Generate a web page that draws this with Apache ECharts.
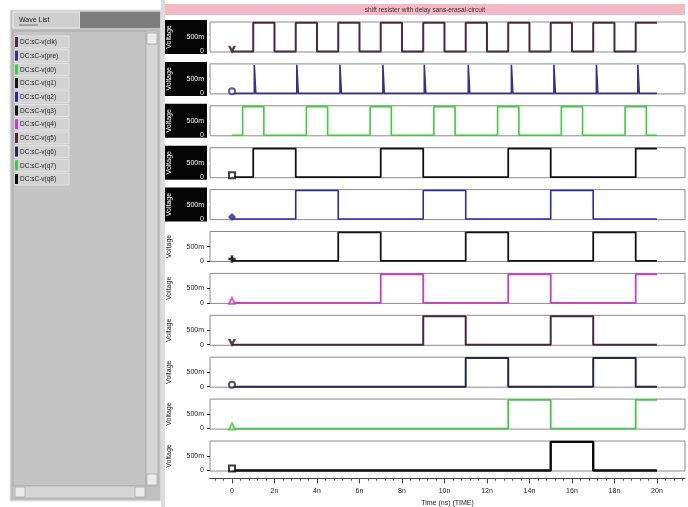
<!DOCTYPE html>
<html><head><meta charset="utf-8">
<script src="https://cdn.jsdelivr.net/npm/echarts@6/dist/echarts.min.js"></script>
<style>html,body{margin:0;padding:0;background:#fff}#c{width:688px;height:507px}</style>
</head><body><div id="c"></div><script>
// ---------- data ----------
const chartTitle = 'shift resister with delay sans-erasal-circuit';
const signalNames = ['DC:sC-v(clk)','DC:sC-v(pre)','DC:sC-v(d0)','DC:sC-v(q1)','DC:sC-v(q2)','DC:sC-v(q3)','DC:sC-v(q4)','DC:sC-v(q5)','DC:sC-v(q6)','DC:sC-v(q7)','DC:sC-v(q8)'];
const clkHigh = [[1,2],[3,4],[5,6],[7,8],[9,10],[11,12],[13,14],[15,16],[17,18],[19,20]];
const preHigh = [[1.05,1.12],[3.05,3.12],[5.08,5.15],[7.1,7.17],[9.05,9.12],[11.12,11.19],[13.15,13.22],[15.15,15.22],[17.15,17.22],[19.1,19.17]];
const d0High  = [[0.5,1.5],[3.5,4.5],[6.5,7.5],[9.5,10.5],[12.5,13.5],[15.5,16.5],[18.5,19.5]];
const q1High  = [[1,3],[7,9],[13,15],[19,20]];
const q2High  = [[3,5],[9,11],[15,17]];
const q3High  = [[5,7],[11,13],[17,19]];
const q4High  = [[7,9],[13,15],[19,20]];
const q5High  = [[9,11],[15,17]];
const q6High  = [[11,13],[17,19]];
const q7High  = [[13,15],[19,20]];
const q8High  = [[15,17]];
const tStart = 0, tEnd = 20;
const lowLevel = 0, highLevel = 1;
const xTickValues = [0,2,4,6,8,10,12,14,16,18,20];
const xTickLabels = ['0','2n','4n','6n','8n','10n','12n','14n','16n','18n','20n'];
const yTickValues = [0, 0.5];
const yTickLabels = ['0', '500m'];
const xAxisName = 'Time (ns) (TIME)';
const yAxisName = 'Voltage';

// ---------- styles ----------
const allHigh = [clkHigh,preHigh,d0High,q1High,q2High,q3High,q4High,q5High,q6High,q7High,q8High];
const colors = ['#4a2a3c','#3b2f8c','#3ccc3c','#111111','#2a2aa8','#141414','#c43ec4','#4a2a3a','#262645','#44c844','#0a0a0a'];
const widths = [2,1.6,1.6,1.8,1.6,1.8,1.8,2,2,1.8,2.4];
const vPath = 'path://M0,0 L2,0 L5,6 L8,0 L10,0 L5,10 Z';
const plusPath = 'path://M4,0h2v4h4v2h-4v4h-2v-4h-4v-2h4z';
const markers = [vPath,'emptyCircle','none','emptyRect','diamond',plusPath,'emptyTriangle',vPath,'emptyCircle','emptyTriangle','emptyRect'];
const darkLabel = [true,true,true,true,true,false,false,false,false,false,false];
const FONT = 'Liberation Sans';
const rowTop0 = 22, rowPitch = 41.9, rowH = 30, gLeft = 210, gRight = 3;
const xMin = -1.035, xMax = 21.32;

function buildSteps(high){
  const pts = [[tStart, lowLevel]];
  high.forEach(([a,b]) => {
    pts.push([a, lowLevel],[a, highLevel],[b, highLevel]);
    if (b < tEnd) pts.push([b, lowLevel]);
  });
  const last = pts[pts.length-1];
  if (last[0] < tEnd) pts.push([tEnd, last[1]]);
  return pts;
}

const grids=[], xAxes=[], yAxes=[], series=[], graphics=[];
// background panes
graphics.push({type:'rect',shape:{x:0,y:0,width:688,height:507},style:{fill:'#ffffff'},z:-10});
// left panel
graphics.push({type:'rect',shape:{x:10,y:10,width:151,height:491},style:{fill:'#c0c0c0',stroke:'#e8e8e8',lineWidth:1},z:-5});
graphics.push({type:'rect',shape:{x:13,y:12,width:67,height:16},style:{fill:'#cfcfcf',stroke:'#f0f0f0',lineWidth:1},z:-4});
graphics.push({type:'text',style:{x:19,y:20,text:'Wave List',fill:'#222',font:'7px '+FONT,textVerticalAlign:'middle'},z:-3});
graphics.push({type:'line',shape:{x1:19,y1:25,x2:38,y2:25},style:{stroke:'#444',lineWidth:0.6},z:-3});
graphics.push({type:'rect',shape:{x:80,y:12,width:80,height:16},style:{fill:'#7c7c7c'},z:-4});
graphics.push({type:'rect',shape:{x:13,y:31,width:133,height:455},style:{fill:'#c4c4c4',stroke:'#a8a8a8',lineWidth:1},z:-4});
// vertical scrollbar
graphics.push({type:'rect',shape:{x:146,y:31,width:12,height:455},style:{fill:'#d6d6d6',stroke:'#b0b0b0',lineWidth:1},z:-4});
graphics.push({type:'rect',shape:{x:147,y:33,width:10,height:11},style:{fill:'#ececec',stroke:'#999',lineWidth:0.6},z:-3});
graphics.push({type:'rect',shape:{x:147,y:474,width:10,height:11},style:{fill:'#ececec',stroke:'#999',lineWidth:0.6},z:-3});
// horizontal scrollbar
graphics.push({type:'rect',shape:{x:13,y:486,width:133,height:12},style:{fill:'#d6d6d6',stroke:'#b0b0b0',lineWidth:1},z:-4});
graphics.push({type:'rect',shape:{x:15,y:487,width:10,height:10},style:{fill:'#ececec',stroke:'#999',lineWidth:0.6},z:-3});
graphics.push({type:'rect',shape:{x:135,y:487,width:10,height:10},style:{fill:'#ececec',stroke:'#999',lineWidth:0.6},z:-3});
// separator
graphics.push({type:'rect',shape:{x:161,y:0,width:4,height:507},style:{fill:'#dcdcdc'},z:-4});
// list items
signalNames.forEach((n,i)=>{
  const y = 36 + i*13.7;
  graphics.push({type:'rect',shape:{x:15,y:y,width:54,height:12},style:{fill:'#d2d2d2',stroke:'#e4e4e4',lineWidth:1},z:-3});
  graphics.push({type:'rect',shape:{x:15,y:y+1,width:3,height:10},style:{fill:colors[i]},z:-2});
  graphics.push({type:'text',style:{x:20,y:y+6.5,text:n,fill:'#222',font:'6.5px '+FONT,textVerticalAlign:'middle'},z:-2});
});
// title bar
graphics.push({type:'rect',shape:{x:165,y:4,width:520,height:11},style:{fill:'#f5b9c6'},z:-4});
graphics.push({type:'text',style:{x:425,y:10,text:chartTitle,fill:'#333',font:'6.5px '+FONT,textAlign:'center',textVerticalAlign:'middle'},z:-2});

allHigh.forEach((high,i)=>{
  const top = rowTop0 + i*rowPitch;
  const dark = darkLabel[i];
  if (dark) graphics.push({type:'rect',shape:{x:165,y:top-2,width:42,height:rowH+4},style:{fill:'#050505'},z:-3});
  grids.push({left:gLeft,right:gRight,top:top,height:rowH,show:true,borderColor:'#8a8a8a',borderWidth:1,backgroundColor:'#fff'});
  xAxes.push({type:'value',gridIndex:i,min:xMin,max:xMax,show:false,axisLine:{onZero:false}});
  const lc = dark ? '#ffffff' : '#222222';
  yAxes.push({type:'value',gridIndex:i,min:-0.02,max:1.03,position:'left',
    name:yAxisName,nameLocation:'middle',nameRotate:90,nameGap:37,
    nameTextStyle:{color:lc,fontSize:7,fontFamily:FONT},
    axisLine:{show:false,onZero:false},splitLine:{show:false},
    axisTick:{show:true,length:3,customValues:yTickValues,lineStyle:{color:lc}},
    axisLabel:{show:true,customValues:yTickValues,margin:6,color:lc,fontSize:7,fontFamily:FONT,
      formatter:v=>yTickLabels[yTickValues.indexOf(v)]}});
  series.push({type:'line',xAxisIndex:i,yAxisIndex:i,data:buildSteps(high),symbol:'none',
    lineStyle:{color:colors[i],width:widths[i]},animation:false,z:3});
  if (markers[i] !== 'none') series.push({type:'scatter',xAxisIndex:i,yAxisIndex:i,data:[[tStart,lowLevel]],
    symbol:markers[i],symbolSize:6,symbolOffset:[0,-2],itemStyle:{color:colors[i],borderColor:colors[i],borderWidth:1.4},animation:false,z:4});
});

// time axis
const ai = allHigh.length;
grids.push({left:gLeft,right:gRight,top:478,height:1,show:false});
const minorVals = [];
for (let t = -0.8; t <= 21.2; t += 0.4) minorVals.push(Math.round(t*10)/10);
xAxes.push({type:'value',gridIndex:ai,min:xMin,max:xMax,position:'bottom',
  name:xAxisName,nameLocation:'middle',nameGap:21,nameTextStyle:{color:'#222',fontSize:7,fontFamily:FONT},
  axisLine:{show:true,onZero:false,lineStyle:{color:'#444',width:1}},splitLine:{show:false},
  axisTick:{show:true,length:5,customValues:xTickValues,lineStyle:{color:'#333'}},
  axisLabel:{show:true,customValues:xTickValues,margin:9,color:'#222',fontSize:7,fontFamily:FONT,
    formatter:v=>xTickLabels[xTickValues.indexOf(v)]}});
xAxes.push({type:'value',gridIndex:ai,min:xMin,max:xMax,position:'bottom',
  axisLine:{show:false,onZero:false},splitLine:{show:false},axisLabel:{show:false},
  axisTick:{show:true,length:2.5,customValues:minorVals,lineStyle:{color:'#555'}}});
yAxes.push({type:'value',gridIndex:ai,show:false,min:0,max:1});

const chart = echarts.init(document.getElementById('c'),null,{renderer:'canvas'});
chart.setOption({animation:false,backgroundColor:'#fff',grid:grids,xAxis:xAxes,yAxis:yAxes,series:series,graphic:graphics});
</script></body></html>
